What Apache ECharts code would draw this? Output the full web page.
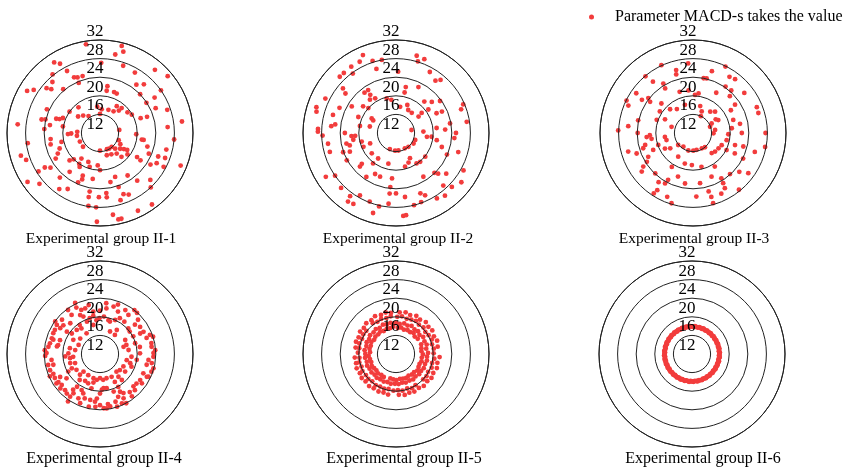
<!DOCTYPE html>
<html>
<head>
<meta charset="utf-8">
<script src="https://cdn.jsdelivr.net/npm/echarts@6/dist/echarts.min.js"></script>
<style>html,body{margin:0;padding:0;background:#fff;}#chart{width:844px;height:470px;}</style>
</head>
<body>
<div id="chart"></div>
<script>
// ---- data: [radius value, angle in degrees clockwise from top] ----
const legendName = 'Parameter MACD-s takes the value';
const captions = ['Experimental group II-1','Experimental group II-2','Experimental group II-3',
                  'Experimental group II-4','Experimental group II-5','Experimental group II-6'];
const radiusTicks = [12, 16, 20, 24, 28, 32];

const g1 = [
[31.3,351],[31.3,14],[30.2,16],[29.2,11],[27.1,1],[30.1,327],[29.2,330],[30.0,41],[27.3,19],[27.1,332],
[27.0,30],[31.0,50],[28.2,321],[25.2,335],[24.9,338],[24.8,343],[23.7,337],[27.0,317],[29.0,303],[30.1,300],
[27.0,310],[26.1,312],[24.3,320],[22.2,9],[21.2,9],[21.3,19],[21.2,23],[25.0,37],[26.1,42],[28.0,55],
[24.0,46],[23.9,57],[26.0,57],[25.1,66],[27.3,71],[29.8,82],[26.6,85],[28.0,95],[26.7,104],[27.0,111],
[30.7,112],[25.8,118],[24.8,122],[25.5,112],[23.4,113],[22.6,106],[21.1,99],[19.8,92],[21.3,70],[22.7,71],
[19.9,60],[19.4,53],[19.1,41],[18.8,32],[17.5,32],[18.3,40],[17.3,20],[16.1,0],[17.1,4],[19.2,320],
[20.0,305],[17.9,307],[17.2,316],[16.4,326],[20.6,292],[21.2,289],[21.9,288],[24.5,294],[24.1,284],[24.9,283],
[22.9,279],[24.0,274],[20.1,280],[18.9,268],[18.2,269],[16.9,273],[17.0,263],[16.7,247],[16.7,231],[22.7,263],
[22.9,257],[20.5,257],[21.3,249],[23.0,240],[22.1,244],[25.0,235],[26.0,238],[27.6,238],[29.7,254],[28.9,250],
[30.8,236],[29.0,230],[20.8,228],[20.0,225],[18.8,216],[20.0,214],[20.5,211],[19.6,197],[18.7,202],[19.0,184],
[20.0,180],[22.0,189],[21.9,202],[22.7,201],[22.6,218],[24.9,222],[26.9,216],[25.9,210],[23.6,204],[24.8,190],
[26.0,190],[25.0,174],[25.9,174],[25.8,181],[22.8,168],[22.0,161],[24.3,161],[26.1,159],[26.6,155],[27.1,163],
[22.9,147],[25.0,142],[26.8,133],[28.0,137],[31.0,144],[30.6,154],[29.8,171],[31.0,168],[31.0,166],[31.1,182],
[28.0,183],[15.8,180],[15.8,157],[15.9,150],[15.9,140],[16.7,136],[17.5,128],[18.2,124],[18.9,122],[19.5,128],
[18.9,138],[17.7,141],[17.2,152],[17.0,163],[16.2,81],[16.3,111],[17.0,119],[21.5,99],[27.5,118],[29.8,276],
[27.7,262],[22.5,124],[21.5,123],[17.7,354],[27.9,189]
];

const g2 = [
[30.2,337],[29.2,333],[29.2,15],[28.1,17],[29.0,21],[28.0,349],[29.2,326],[29.1,319],[29.1,315],[27.8,324],
[26.4,343],[25.2,2],[27.0,29],[26.1,37],[26.9,40],[23.0,26],[22.1,12],[20.9,12],[23.0,327],[23.0,322],
[21.9,326],[26.9,310],[25.8,308],[28.9,296],[30.0,288],[29.7,285],[26.1,286],[25.2,278],[26.0,276],[28.8,273],
[28.8,271],[27.8,268],[26.8,261],[26.8,254],[29.8,238],[28.0,235],[28.7,225],[28.8,216],[30.0,215],[29.8,211],
[27.5,210],[29.9,196],[27.8,201],[28.2,193],[27.3,186],[25.1,186],[25.0,180],[25.9,172],[29.9,175],[29.8,173],
[26.0,158],[26.8,155],[27.8,160],[28.0,166],[28.6,148],[29.1,142],[28.7,134],[27.2,138],[24.6,134],[25.9,129],
[29.6,127],[28.6,119],[26.0,107],[23.9,113],[22.3,107],[20.9,100],[19.7,96],[18.7,97],[17.9,87],[20.8,83],
[22.6,86],[24.6,95],[24.9,90],[27.4,81],[27.7,67],[26.9,70],[23.8,80],[22.9,65],[21.7,64],[23.7,54],
[22.2,49],[21.1,42],[20.6,54],[19.0,52],[18.0,54],[17.5,38],[17.6,28],[18.5,22],[17.7,9],[19.2,352],
[19.7,345],[20.7,329],[21.1,322],[21.1,309],[20.0,312],[23.1,301],[25.3,294],[20.8,293],[18.1,301],[17.6,299],
[19.9,281],[23.0,270],[21.6,266],[20.8,266],[21.3,261],[22.9,258],[22.3,255],[24.1,250],[22.7,248],[19.6,256],
[19.6,247],[18.0,248],[18.8,230],[15.7,201],[15.8,183],[15.8,172],[15.8,150],[16.0,138],[16.4,121],[20.1,129],
[20.1,140],[19.9,146],[18.9,157],[19.5,165],[18.8,194],[21.9,228],[22.6,227],[23.4,214],[21.9,207],[22.0,200],
[21.8,185],[23.1,148],[23.9,136],[15.4,79],[16.4,110],[20.2,217],[18.2,151],[17.8,284],[24.1,241],[18.7,215],
[23.7,186],[28.3,342]
];

const g3 = [
[28.1,335],[27.0,356],[26.0,345],[25.1,344],[25.9,17],[24.0,11],[24.1,14],[27.9,26],[26.4,33],[26.7,38],
[24.2,35],[24.3,42],[26.0,52],[23.2,45],[22.0,30],[20.6,8],[21.2,354],[24.4,329],[23.3,328],[26.0,322],
[27.9,320],[26.9,305],[27.9,296],[27.1,293],[25.1,303],[24.2,308],[23.4,306],[21.3,313],[20.5,303],[19.1,316],
[18.2,326],[18.3,344],[18.0,15],[17.0,22],[16.0,25],[17.9,39],[18.6,46],[17.7,59],[18.1,63],[16.5,63],
[15.9,70],[16.8,82],[16.4,91],[18.7,296],[20.3,290],[24.1,283],[26.0,276],[28.1,272],[23.9,270],[22.0,265],
[21.3,267],[21.0,262],[18.1,262],[17.9,255],[19.9,251],[22.6,256],[23.2,253],[21.3,247],[18.9,241],[17.9,236],
[16.1,231],[15.6,215],[15.9,195],[15.8,179],[15.7,168],[15.8,150],[16.0,140],[17.9,137],[18.2,130],[18.4,121],
[18.7,113],[19.4,102],[19.6,92],[20.4,83],[21.1,72],[21.5,59],[22.9,56],[22.3,79],[22.5,90],[21.4,106],
[23.2,105],[22.0,116],[20.1,117],[20.6,147],[22.2,157],[23.5,148],[23.9,138],[25.0,130],[26.7,126],[24.1,117],
[25.9,107],[27.8,101],[27.6,90],[26.8,68],[26.7,73],[22.9,242],[23.7,238],[24.9,236],[25.8,233],[23.9,223],
[20.6,212],[21.9,199],[23.0,189],[23.4,208],[24.4,209],[24.9,215],[26.5,212],[27.5,213],[26.8,202],[27.8,197],
[25.7,177],[22.9,172],[25.0,165],[24.6,149],[25.7,150],[26.4,155],[26.3,164],[27.7,164],[27.7,141],[26.5,254],
[18.9,182],[18.0,212],[16.8,286],[20.2,3],[21.3,342],[18.8,195],[19.5,166],[24.9,250]
];

const g4 = [
[24.2,334],[23.2,333],[23.7,324],[22.8,347],[21.2,351],[21.3,0],[23.0,7],[21.9,8],[23.3,20],[21.9,23],
[22.9,30],[24.0,38],[23.9,42],[22.4,36],[20.8,29],[19.3,17],[19.5,14],[19.7,359],[19.3,354],[21.4,333],
[19.5,338],[18.4,347],[19.6,325],[19.2,316],[18.8,324],[21.2,316],[23.0,312],[23.9,306],[22.2,303],[22.9,288],
[21.1,289],[21.2,282],[20.6,304],[19.5,306],[18.5,298],[18.6,281],[18.8,271],[19.5,266],[18.5,262],[18.7,253],
[18.8,243],[19.8,241],[20.9,234],[21.9,240],[22.6,231],[22.9,247],[22.3,257],[22.5,263],[23.9,274],[23.8,268],
[23.8,246],[18.1,236],[18.2,224],[19.1,218],[18.6,209],[20.6,215],[22.2,214],[23.2,215],[23.1,220],[24.3,214],
[22.6,206],[23.4,202],[23.6,192],[23.4,185],[21.6,184],[20.5,180],[19.7,177],[19.6,194],[18.8,202],[18.3,193],
[17.6,187],[17.4,165],[17.5,153],[17.2,137],[17.5,129],[19.3,140],[20.6,160],[21.2,152],[22.0,157],[22.8,162],
[23.5,169],[23.7,176],[24.0,152],[23.4,143],[22.8,136],[22.1,129],[22.3,123],[22.2,114],[23.7,109],[22.3,103],
[22.5,97],[23.9,86],[23.3,78],[24.0,72],[21.7,63],[21.8,50],[18.0,71],[18.2,82],[17.9,103],[19.3,112],
[20.0,99],[20.6,89],[20.7,80],[18.2,61],[20.0,53],[22.6,71],[17.7,118],[17.2,180],[23.3,236],[23.4,258],
[21.4,280],[23.0,294],[20.8,336],[20.0,344],[20.0,24],[23.0,48],[20.2,48],[20.1,62],[23.5,115],[22.8,152],
[23.8,173],[20.7,207],[19.4,174],[19.5,169],[20.1,151],[19.9,73],[23.5,93],
[20.3,350],[20.1,6],[18.3,35],[20.7,37],[22.4,56],[22.5,63],[23.5,69],[23.2,82],[23.5,89],[23.3,100],
[23.9,105],[22.0,134],[22.4,142],[21.8,149],[23.6,156],[23.9,162],[22.9,171],[23.0,180],[22.3,186],[22.1,192],
[22.1,199],[21.2,203],[21.6,217],[22.8,224],[23.3,229],[22.8,236],[23.0,242],[23.3,252],[23.5,271],[23.2,278],
[23.0,282],[22.5,287],[23.2,304],[22.0,308],[22.4,324],[22.3,337],[22.3,342],[22.6,16],[17.4,279],[17.7,250],
[17.2,223],[17.2,209],[17.6,173],[18.8,152],[18.6,125],[18.8,107],[18.8,95],[17.3,73],[17.2,38],[17.3,24],
[17.3,327],[17.4,308],[17.0,293],[17.8,264],[17.4,195],[18.3,141],[23.2,116],[23.0,125],[23.0,298]
];

const g5 = [
[17.6,4],[17.8,11],[17.5,18],[17.7,26],[17.6,33],[17.9,40],[17.5,47],[17.7,55],[17.8,69],[17.6,77],
[17.5,84],[17.8,91],[17.6,98],[17.7,106],[17.5,113],[17.6,120],[17.8,128],[17.5,135],[17.6,142],[17.4,150],
[17.6,157],[17.5,164],[17.4,171],[17.6,179],[17.5,186],[17.4,193],[17.6,208],[17.5,215],[17.7,223],[17.5,230],
[17.6,237],[17.8,244],[17.6,252],[17.7,259],[17.9,266],[17.6,274],[17.8,281],[17.7,288],[17.9,296],[17.6,303],
[17.8,310],[17.7,318],[17.9,325],[17.6,332],[17.8,340],[17.7,347],[17.9,354],
[18.7,0],[18.5,7],[18.8,15],[18.6,22],[18.9,29],[18.6,37],[18.8,44],[18.5,51],[18.9,58],[18.7,66],
[18.9,73],[18.6,80],[18.9,88],[18.7,95],[18.8,102],[18.6,109],[18.7,117],[18.5,124],[18.6,131],[18.4,139],
[18.6,146],[18.4,153],[18.5,161],[18.3,168],[18.5,175],[18.4,182],[18.5,190],[18.3,197],[18.5,204],[18.4,212],
[18.6,219],[18.4,226],[18.6,233],[18.5,241],[18.7,248],[18.5,255],[18.7,263],[18.6,270],[18.8,277],[18.6,285],
[18.8,292],[18.6,299],[18.9,306],[18.7,314],[18.9,321],[18.6,328],[18.9,336],[18.7,343],[18.8,350],[18.6,357],
[20.0,2],[20.2,9],[19.9,17],[20.1,24],[20.3,31],[20.0,38],[20.2,46],[19.9,53],[20.1,60],[20.3,68],
[20.0,75],[20.2,82],[20.1,89],[20.3,97],[20.0,104],[20.2,111],[19.9,119],[20.1,126],[20.0,133],[19.9,148],
[20.1,155],[19.8,162],[20.0,170],[19.8,177],[19.9,184],[19.7,192],[19.9,199],[19.8,206],[20.0,213],[19.8,221],
[20.0,228],[19.9,235],[20.1,243],[19.9,250],[20.1,257],[19.9,264],[20.2,272],[20.0,279],[20.2,286],[20.0,294],
[20.2,301],[20.1,308],[20.3,323],[20.0,330],[20.2,337],[20.0,345],[20.2,352],
[21.0,5],[21.2,13],[20.9,20],[21.3,28],[21.0,35],[21.4,43],[21.1,50],[21.3,57],[21.0,65],[21.3,72],
[21.1,80],[21.4,94],[21.1,102],[21.3,109],[21.0,117],[21.2,124],[20.9,131],[21.1,139],[20.8,146],[21.0,154],
[20.8,161],[21.0,168],[20.8,176],[20.9,191],[20.7,198],[20.9,205],[20.8,213],[21.0,220],[20.8,228],[21.0,235],
[20.8,242],[21.0,250],[20.8,257],[20.9,265],[20.8,279],[21.0,287],[20.8,294],[21.1,302],[20.9,309],[21.2,316],
[21.0,324],[21.3,331],[21.0,339],[21.2,346],[20.9,353]
];

const g6 = [
[17.9,0],[17.8,3],[18.0,6],[17.9,9],[17.8,12],[18.0,15],[17.9,18],[17.8,21],[18.0,24],[17.9,27],
[17.8,30],[18.0,33],[17.9,36],[17.8,39],[18.0,42],[17.9,45],[17.8,48],[18.0,51],[17.9,54],[17.8,57],
[18.0,60],[17.9,63],[17.8,66],[18.0,69],[17.9,72],[17.8,75],[18.0,78],[17.9,81],[17.8,84],[18.0,87],
[17.9,90],[17.8,93],[18.0,96],[17.9,99],[17.8,102],[18.0,105],[17.9,108],[17.8,111],[18.0,114],[17.9,117],
[17.8,120],[18.0,123],[17.9,126],[17.8,129],[18.0,132],[17.9,135],[17.8,138],[18.0,141],[17.9,144],[17.8,147],
[18.0,150],[17.9,153],[17.8,156],[18.0,159],[17.9,162],[17.8,165],[18.0,168],[17.9,171],[17.8,174],[18.0,177],
[17.9,180],[17.8,183],[18.0,186],[17.9,189],[17.8,192],[18.0,195],[17.9,198],[17.8,201],[18.0,204],[17.9,207],
[17.8,210],[18.0,213],[17.9,216],[17.8,219],[18.0,222],[17.9,225],[17.8,228],[18.0,231],[17.9,234],[17.8,237],
[18.0,240],[17.9,243],[17.8,246],[18.0,249],[17.9,252],[17.8,255],[18.0,258],[17.9,261],[17.8,264],[18.0,267],
[17.9,270],[17.8,273],[18.0,276],[17.9,279],[17.8,282],[18.0,285],[17.9,288],[17.8,291],[18.0,294],[17.9,297],
[17.8,300],[18.0,303],[17.9,306],[17.8,309],[18.0,312],[17.9,315],[17.8,318],[18.0,321],[17.9,324],[17.8,327],
[18.0,330],[17.9,333],[17.8,336],[18.0,339],[17.9,342],[17.8,345],[18.0,348],[17.9,351],[17.8,354],[18.0,357],
[17.9,1.5],[17.9,7.5],[17.9,13.5],[17.9,19.5],[17.9,25.5],[17.9,31.5],[17.9,37.5],[17.9,43.5],[17.9,49.5],[17.9,55.5],
[17.9,61.5],[17.9,67.5],[17.9,73.5],[17.9,79.5],[17.9,85.5],[17.9,91.5],[17.9,97.5],[17.9,103.5],[17.9,109.5],[17.9,115.5],
[17.9,121.5],[17.9,127.5],[17.9,133.5],[17.9,139.5],[17.9,145.5],[17.9,151.5],[17.9,157.5],[17.9,163.5],[17.9,169.5],[17.9,175.5],
[17.9,181.5],[17.9,187.5],[17.9,193.5],[17.9,199.5],[17.9,205.5],[17.9,211.5],[17.9,217.5],[17.9,223.5],[17.9,229.5],[17.9,235.5],
[17.9,241.5],[17.9,247.5],[17.9,253.5],[17.9,259.5],[17.9,265.5],[17.9,271.5],[17.9,277.5],[17.9,283.5],[17.9,289.5],[17.9,295.5],
[17.9,301.5],[17.9,307.5],[17.9,313.5],[17.9,319.5],[17.9,325.5],[17.9,331.5],[17.9,337.5],[17.9,343.5],[17.9,349.5],[17.9,355.5]
];

const groups = [g1, g2, g3, g4, g5, g6];

// ---- layout / style ----
const FONT = "'Liberation Serif', 'Times New Roman', serif";
const centers = [[100,133],[396,133],[693,133],[100,354],[396,354],[692,354]];
const captionX = [101, 398, 694, 104, 404, 703];
const R = 93;
const lineColor = '#222';
const dotColor = '#f23c3c';

const chart = echarts.init(document.getElementById('chart'), null, {renderer: 'canvas'});

const polar = centers.map(c => ({center: [c[0], c[1]], radius: R}));
const angleAxis = centers.map((c, i) => ({
  polarIndex: i, type: 'value', min: 0, max: 360, startAngle: 90, clockwise: true,
  axisLine: {show: true, lineStyle: {color: lineColor, width: 1}},
  axisTick: {show: false}, axisLabel: {show: false}, splitLine: {show: false}
}));
const radiusAxis = centers.map((c, i) => ({
  polarIndex: i, type: 'value',
  min: radiusTicks[0], max: radiusTicks[radiusTicks.length - 1], interval: radiusTicks[1] - radiusTicks[0],
  axisLine: {show: false}, axisTick: {show: false},
  splitLine: {show: true, lineStyle: {color: lineColor, width: 1}},
  axisLabel: {show: true, margin: 0, align: 'center', verticalAlign: 'bottom', rotate: 0,
    fontFamily: FONT, fontSize: 17, color: '#000', padding: [0, 10, 0, 0]},
  z: 3
}));
const series = groups.map((g, i) => ({
  name: legendName, type: 'scatter', coordinateSystem: 'polar', polarIndex: i,
  symbol: 'circle', symbolSize: 4.8, itemStyle: {color: dotColor, opacity: 1},
  data: g, z: 2
}));
const title = captions.map((t, i) => ({
  text: t, left: captionX[i], top: i < 3 ? 231 : 451, textAlign: 'center',
  textStyle: {fontFamily: FONT, fontSize: i < 3 ? 15.5 : 16, fontWeight: 'normal', color: '#000'},
  padding: 0
}));

chart.setOption({
  animation: false,
  backgroundColor: '#fff',
  title: title,
  legend: {
    data: [legendName], left: 589, top: 9, icon: 'circle', itemWidth: 5, itemHeight: 5,
    textStyle: {fontFamily: FONT, fontSize: 16, color: '#000', padding: [0, 0, 0, 16]},
    padding: 0
  },
  polar: polar,
  angleAxis: angleAxis,
  radiusAxis: radiusAxis,
  series: series
});
</script>
</body>
</html>
